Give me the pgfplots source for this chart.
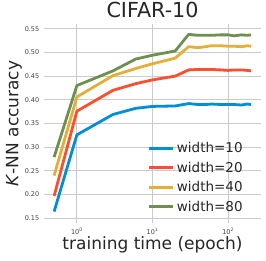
\documentclass[border=0pt]{standalone}
\usepackage{pgfplots}
\pgfplotsset{compat=1.18}
\usepackage{fontspec}
\setmainfont{DejaVu Sans}
\definecolor{c1}{HTML}{008FD5}
\definecolor{c2}{HTML}{FC4F30}
\definecolor{c3}{HTML}{E5AE38}
\definecolor{c4}{HTML}{6D904F}
\definecolor{gridc}{HTML}{CBCBCB}
\begin{document}
\begin{tikzpicture}[x=1pt,y=1pt]
\begin{axis}[
  at={(44.3pt,38pt)}, anchor=south west,
  scale only axis, width=216.5pt, height=198.7pt,
  xmode=log, xmin=0.371, xmax=270,
  ymin=0.140, ymax=0.5593,
  axis line style={draw=none},
  major tick length=0pt, minor tick length=0pt,
  xminorticks=false,
  grid=major, grid style={gridc, line width=0.9pt},
  xtick={1,10,100},
  xticklabels={10\textsuperscript{0},10\textsuperscript{1},10\textsuperscript{2}},
  ytick={0.15,0.2,...,0.56},
  /pgf/number format/fixed, /pgf/number format/fixed zerofill,
  /pgf/number format/precision=2, /pgf/number format/assume math mode=true,
  tick label style={font=\fontsize{6.5}{7}\selectfont, text=black!75},
  xticklabel style={yshift=-2pt},
  yticklabel style={xshift=-1.5pt},
  title={CIFAR-10},
  title style={font=\fontsize{20.7}{22}\selectfont, text=black!85, yshift=-3pt},
  xlabel={training time (epoch)},
  ylabel={\textit{K}-NN accuracy},
  label style={font=\fontsize{17}{18}\selectfont, text=black!85},
  xlabel style={yshift=5pt},
  ylabel style={yshift=-4pt},
  legend style={at={(0.94,0.03)}, anchor=south east, draw=none, fill=none,
    font=\fontsize{13.5}{14}\selectfont, row sep=3.8pt, text=black!85},
  legend cell align=left,
  legend image code/.code={\draw[#1, line width=3pt] (0pt,0pt) -- (24pt,0pt);},
  every axis plot/.append style={line width=2.8pt, line join=round},
]
\addplot[c1] coordinates {(0.5,0.164)(1,0.326)(3,0.369)(6,0.382)(10,0.386)(20,0.387)(30,0.392)(40,0.390)(50,0.390)(60,0.391)(80,0.390)(100,0.390)(120,0.390)(150,0.389)(180,0.391)(200,0.390)};
\addlegendentry{width=10}
\addplot[c2] coordinates {(0.5,0.197)(1,0.376)(3,0.420)(6,0.434)(10,0.442)(20,0.450)(30,0.463)(40,0.464)(50,0.464)(60,0.464)(80,0.463)(100,0.462)(120,0.463)(150,0.463)(180,0.462)(200,0.461)};
\addlegendentry{width=20}
\addplot[c3] coordinates {(0.5,0.240)(1,0.406)(3,0.451)(6,0.466)(10,0.476)(20,0.488)(30,0.512)(40,0.510)(50,0.512)(60,0.514)(80,0.514)(100,0.513)(120,0.513)(150,0.512)(180,0.514)(200,0.513)};
\addlegendentry{width=40}
\addplot[c4] coordinates {(0.5,0.279)(1,0.430)(3,0.461)(6,0.486)(10,0.494)(20,0.503)(30,0.538)(40,0.536)(50,0.536)(60,0.536)(80,0.537)(100,0.537)(120,0.535)(150,0.537)(180,0.536)(200,0.537)};
\addlegendentry{width=80}
\end{axis}
\pgfresetboundingbox
\path (0pt,0pt) rectangle (266pt,261pt);
\end{tikzpicture}
\end{document}
